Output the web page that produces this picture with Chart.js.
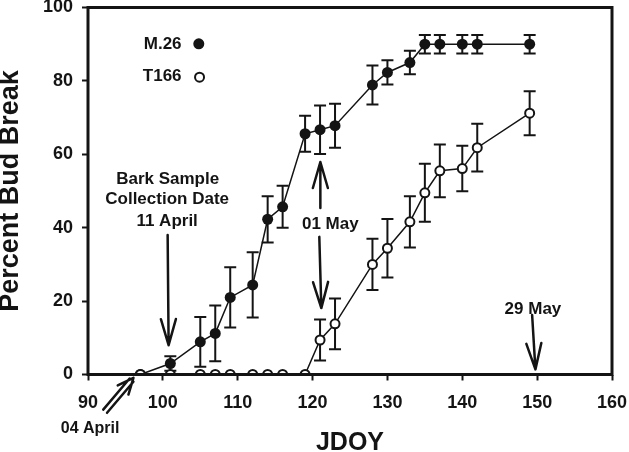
<!DOCTYPE html>
<html>
<head>
<meta charset="utf-8">
<script src="https://cdn.jsdelivr.net/npm/chart.js@4.4.1/dist/chart.umd.min.js"></script>
<style>
  html, body { margin: 0; padding: 0; background: #fff; }
  canvas { display: block; }
</style>
</head>
<body>
<canvas id="myChart" width="629" height="452"></canvas>
<script>
// day of year for each sampling date
const jdoy = [97, 101, 105, 107, 109, 112, 114, 116, 119, 121, 123, 128, 130, 133, 135, 137, 140, 142, 149];

// percent bud break, M.26
const m26 = [0, 3.0, 8.9, 11.2, 21.0, 24.4, 42.3, 45.7, 65.6, 66.7, 67.8, 78.9, 82.3, 85.0, 90, 90, 90, 90, 90];
const m26Err = [0, 2, 6.8, 7.6, 8.2, 8.9, 6.3, 5.7, 4.9, 6.6, 6, 5.3, 3.3, 3.2, 2.5, 2.5, 2.5, 2.5, 2.5];

// percent bud break, T166
const t166 = [0, 0, 0, 0, 0, 0, 0, 0, 0, 9.4, 13.8, 30.0, 34.4, 41.6, 49.5, 55.5, 56.1, 61.8, 71.2];
const t166Err = [0, 0, 0, 0, 0, 0, 0, 0, 0, 5.6, 6.9, 7, 8, 7, 7.9, 7.2, 6.2, 6.5, 6];

const xMin = 90, xMax = 160, xStep = 10;
const yMin = 0, yMax = 100, yStep = 20;

// text notes, in data units
const notes = [
  { text: "Bark Sample", x: 100.64, y: 53.1 },
  { text: "Collection Date", x: 100.57, y: 47.6 },
  { text: "11 April", x: 100.57, y: 41.8 },
  { text: "01 May", x: 122.37, y: 41.0 },
  { text: "29 May", x: 149.44, y: 17.8 },
  { text: "04 April", x: 90.28, y: -14.7, size: 16 },
];

// arrows: from (x1,y1) to tip (x2,y2), in data units
const arrows = [
  { x1: 100.64, y1: 38.0, x2: 100.77, y2: 8.0 },
  { x1: 121.04, y1: 45.4, x2: 121.04, y2: 57.9 },
  { x1: 120.9, y1: 37.5, x2: 121.17, y2: 18.1 },
  { x1: 149.33, y1: 16.2, x2: 149.77, y2: 1.4 },
  { x1: 92.29, y1: -10.0, x2: 96.07, y2: -0.9, double: true },
];

const FONT = '"Liberation Sans", Arial, sans-serif';
const INK = "#141414";

const toPoints = (ys) => jdoy.map((x, i) => ({ x: x, y: ys[i] }));

const errorBars = {
  id: "errorBars",
  beforeDatasetsDraw(chart) {
    const { ctx, scales: { y } } = chart;
    ctx.save();
    ctx.strokeStyle = INK;
    ctx.lineWidth = 2;
    chart.data.datasets.forEach((ds, i) => {
      const meta = chart.getDatasetMeta(i);
      meta.data.forEach((pt, j) => {
        const e = ds.errors[j];
        if (!e) return;
        const v = ds.data[j].y;
        const top = y.getPixelForValue(v + e);
        const bot = y.getPixelForValue(v - e);
        ctx.beginPath();
        ctx.moveTo(pt.x, top);
        ctx.lineTo(pt.x, bot);
        ctx.moveTo(pt.x - 6, top);
        ctx.lineTo(pt.x + 6, top);
        ctx.moveTo(pt.x - 6, bot);
        ctx.lineTo(pt.x + 6, bot);
        ctx.stroke();
      });
    });
    ctx.restore();
  },
};

function drawArrow(ctx, x1, y1, x2, y2, dbl) {
  const ang = Math.atan2(y2 - y1, x2 - x1);
  const len = dbl ? 16 : 26;
  const half = dbl ? 7 : 7.5;
  const bx = x2 - Math.cos(ang) * len, by = y2 - Math.sin(ang) * len;
  const nx = -Math.sin(ang), ny = Math.cos(ang);
  ctx.beginPath();
  if (dbl) {
    ctx.moveTo(x1 + nx * 2.5, y1 + ny * 2.5);
    ctx.lineTo(x2 + nx * 2.5 - Math.cos(ang) * 3, y2 + ny * 2.5 - Math.sin(ang) * 3);
    ctx.moveTo(x1 - nx * 2.5, y1 - ny * 2.5);
    ctx.lineTo(x2 - nx * 2.5 - Math.cos(ang) * 3, y2 - ny * 2.5 - Math.sin(ang) * 3);
  } else {
    ctx.moveTo(x1, y1);
    ctx.lineTo(x2, y2);
  }
  ctx.moveTo(bx + nx * half, by + ny * half);
  ctx.lineTo(x2, y2);
  ctx.lineTo(bx - nx * half, by - ny * half);
  ctx.stroke();
}

const extras = {
  id: "extras",
  afterDraw(chart) {
    const { ctx, chartArea: a, scales: { x, y } } = chart;
    ctx.save();
    // frame
    ctx.strokeStyle = INK;
    ctx.lineWidth = 3;
    ctx.strokeRect(a.left, a.top, a.right - a.left, a.bottom - a.top);

    // legend
    ctx.fillStyle = INK;
    ctx.font = "bold 17px " + FONT;
    ctx.textAlign = "right";
    ctx.textBaseline = "middle";
    ctx.fillText("M.26", x.getPixelForValue(102.5), y.getPixelForValue(90.1));
    ctx.fillText("T166", x.getPixelForValue(102.5), y.getPixelForValue(81.2));
    ctx.beginPath();
    ctx.arc(x.getPixelForValue(104.8), y.getPixelForValue(90.1), 5.5, 0, Math.PI * 2);
    ctx.fill();
    ctx.beginPath();
    ctx.lineWidth = 2;
    ctx.arc(x.getPixelForValue(104.9), y.getPixelForValue(81.0), 4.5, 0, Math.PI * 2);
    ctx.stroke();

    // notes
    ctx.textAlign = "center";
    notes.forEach((n) => {
      ctx.font = "bold " + (n.size || 17) + "px " + FONT;
      ctx.fillText(n.text, x.getPixelForValue(n.x), y.getPixelForValue(n.y));
    });

    // arrows
    ctx.lineWidth = 2.5;
    ctx.lineCap = "round";
    ctx.lineJoin = "round";
    arrows.forEach((r) => {
      drawArrow(ctx, x.getPixelForValue(r.x1), y.getPixelForValue(r.y1),
        x.getPixelForValue(r.x2), y.getPixelForValue(r.y2), r.double);
    });
    ctx.restore();
  },
};

const ctx = document.getElementById("myChart").getContext("2d");
const myChart = new Chart(ctx, {
  type: "scatter",
  data: {
    datasets: [
      {
        label: "M.26",
        data: toPoints(m26),
        errors: m26Err,
        showLine: true,
        borderColor: INK,
        borderWidth: 1.5,
        backgroundColor: INK,
        pointRadius: 5.5,
        pointBorderWidth: 0,
        pointBackgroundColor: INK,
        order: 1,
      },
      {
        label: "T166",
        data: toPoints(t166),
        errors: t166Err,
        showLine: true,
        borderColor: INK,
        borderWidth: 1.5,
        pointRadius: 4.5,
        pointBorderWidth: 2,
        pointBorderColor: INK,
        pointBackgroundColor: "#fff",
        order: 0,
      },
    ],
  },
  options: {
    responsive: false,
    animation: false,
    devicePixelRatio: 1,
    layout: { padding: { top: 7.5, right: 17, left: 0, bottom: 0 } },
    plugins: {
      legend: { display: false },
      tooltip: { enabled: false },
    },
    scales: {
      x: {
        type: "linear",
        min: xMin,
        max: xMax,
        afterFit: (s) => { s.height = 77.5; s.paddingLeft = 0; s.paddingRight = 0; },
        ticks: {
          stepSize: xStep,
          maxRotation: 0,
          padding: 12,
          color: INK,
          font: { family: FONT, size: 18, weight: "bold" },
        },
        grid: { drawOnChartArea: false, tickLength: 6, tickWidth: 2, tickColor: INK },
        border: { display: false },
        title: {
          display: true,
          text: "JDOY",
          color: INK,
          padding: 0,
          font: { family: FONT, size: 25, weight: "bold", lineHeight: 0.7 },
        },
      },
      y: {
        min: yMin,
        max: yMax,
        afterFit: (s) => { s.width = 88; s.paddingTop = 0; s.paddingBottom = 0; },
        ticks: {
          stepSize: yStep,
          padding: 9,
          color: INK,
          font: { family: FONT, size: 18, weight: "bold" },
        },
        grid: { drawOnChartArea: false, tickLength: 6, tickWidth: 2, tickColor: INK },
        border: { display: false },
        title: {
          display: true,
          text: "Percent Bud Break",
          color: INK,
          padding: 0,
          font: { family: FONT, size: 27, weight: "bold", lineHeight: 0.75 },
        },
      },
    },
  },
  plugins: [errorBars, extras],
});
</script>
</body>
</html>
